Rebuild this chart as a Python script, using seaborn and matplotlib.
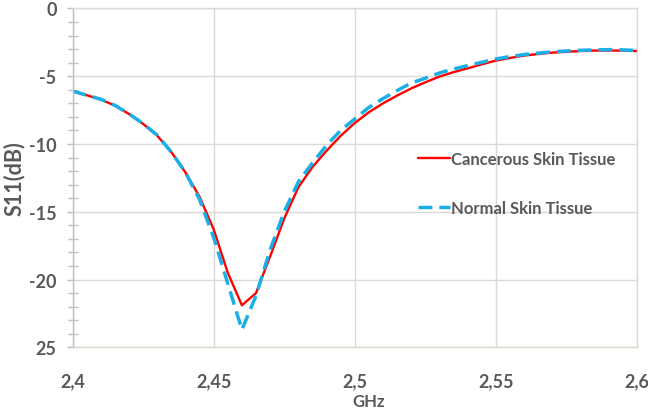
import matplotlib
matplotlib.use("Agg")
import matplotlib.pyplot as plt
import seaborn as sns
import pandas as pd
from matplotlib.ticker import MultipleLocator, FixedLocator, FixedFormatter

# ---- data ----
freq_ghz = [2.400, 2.405, 2.410, 2.415, 2.420, 2.425, 2.430, 2.435, 2.440, 2.445,
            2.450, 2.455, 2.460, 2.465, 2.470, 2.475, 2.480, 2.485, 2.490, 2.495,
            2.500, 2.505, 2.510, 2.515, 2.520, 2.525, 2.530, 2.535, 2.540, 2.545,
            2.550, 2.555, 2.560, 2.565, 2.570, 2.575, 2.580, 2.585, 2.590, 2.595,
            2.600]
cancerous = [-6.1, -6.4, -6.72, -7.17, -7.79, -8.52, -9.39, -10.6, -12.1, -13.9,
             -16.3, -19.5, -21.9, -21.0, -18.3, -15.5, -13.2, -11.7, -10.5, -9.4,
             -8.45, -7.66, -7.0, -6.43, -5.9, -5.45, -5.03, -4.7, -4.42, -4.12,
             -3.85, -3.65, -3.48, -3.36, -3.26, -3.2, -3.14, -3.11, -3.11, -3.11,
             -3.14]
normal = [-6.1, -6.4, -6.7, -7.15, -7.78, -8.5, -9.35, -10.6, -12.1, -14.1,
          -16.9, -20.3, -23.7, -21.2, -17.8, -15.0, -12.8, -11.4, -10.1, -9.0,
          -8.15, -7.3, -6.65, -6.06, -5.5, -5.15, -4.76, -4.47, -4.22, -3.97,
          -3.73, -3.55, -3.4, -3.3, -3.2, -3.14, -3.09, -3.06, -3.04, -3.06,
          -3.1]
series_names = ["Cancerous Skin Tissue", "Normal Skin Tissue"]
x_ticks = [2.40, 2.45, 2.50, 2.55, 2.60]
x_tick_labels = ["2,4", "2,45", "2,5", "2,55", "2,6"]
y_ticks = [-25, -20, -15, -10, -5, 0]
y_tick_labels = ["25", "-20", "-15", "-10", "-5", "0"]

df = pd.DataFrame({
    "GHz": freq_ghz * 2,
    "S11": cancerous + normal,
    "series": [series_names[0]] * len(freq_ghz) + [series_names[1]] * len(freq_ghz),
})

sns.set_theme(style="white")
plt.rcParams["font.family"] = ["Lato", "DejaVu Sans"]

fig = plt.figure(figsize=(6.48, 4.10), dpi=100)
ax = fig.add_axes([0.112, 0.1505, 0.871, 0.8265])

gray = "#595959"
sns.lineplot(data=df, x="GHz", y="S11", hue="series", style="series",
             palette={series_names[0]: "#FF0000", series_names[1]: "#1AAFE6"},
             dashes={series_names[0]: "", series_names[1]: (4.0, 2.0)},
             size="series", sizes={series_names[0]: 1.7, series_names[1]: 2.5},
             ax=ax, legend=True)

ax.set_xlim(2.4, 2.6)
ax.set_ylim(-25, 0)
ax.xaxis.set_major_locator(FixedLocator(x_ticks))
ax.xaxis.set_major_formatter(FixedFormatter(x_tick_labels))
ax.yaxis.set_major_locator(FixedLocator(y_ticks))
ax.yaxis.set_major_formatter(FixedFormatter(y_tick_labels))
ax.yaxis.set_minor_locator(MultipleLocator(1))

ax.grid(True, which="major", color="#d9d9d9", linewidth=1.0)
ax.set_axisbelow(True)
for s in ["top", "right"]:
    ax.spines[s].set_visible(True)
    ax.spines[s].set_color("#d9d9d9")
    ax.spines[s].set_linewidth(1.0)
ax.spines["left"].set_color("#bfbfbf")
ax.spines["left"].set_linewidth(1.0)
ax.spines["bottom"].set_color("#ddd8cc")
ax.spines["bottom"].set_linewidth(1.0)

ax.tick_params(axis="y", which="major", left=True, length=4.5, width=1.0,
               color="#bfbfbf", pad=7, labelsize=13, labelcolor=gray)
ax.tick_params(axis="y", which="minor", left=True, direction="inout",
               length=7, width=1.0, color="#bfbfbf")
ax.tick_params(axis="x", which="major", bottom=False, pad=12,
               labelsize=13, labelcolor=gray)
for lab in ax.get_xticklabels() + ax.get_yticklabels():
    lab.set_fontweight("bold")

ax.set_ylabel("S11(dB)", fontsize=15.5, fontweight="bold", color=gray)
ax.yaxis.set_label_coords(-0.085, 0.5)
ax.set_xlabel("GHz", fontsize=12, color=gray, fontweight="bold")
ax.xaxis.set_label_coords(0.525, -0.135)

leg = ax.legend(loc="upper left", bbox_to_anchor=(0.6, 0.60), frameon=False,
                fontsize=12, handlelength=1.9, handletextpad=0.1,
                labelspacing=2.0, borderaxespad=0)
for t in leg.get_texts():
    t.set_color(gray)
    t.set_fontweight("bold")

fig.savefig("out.png", dpi=100)
